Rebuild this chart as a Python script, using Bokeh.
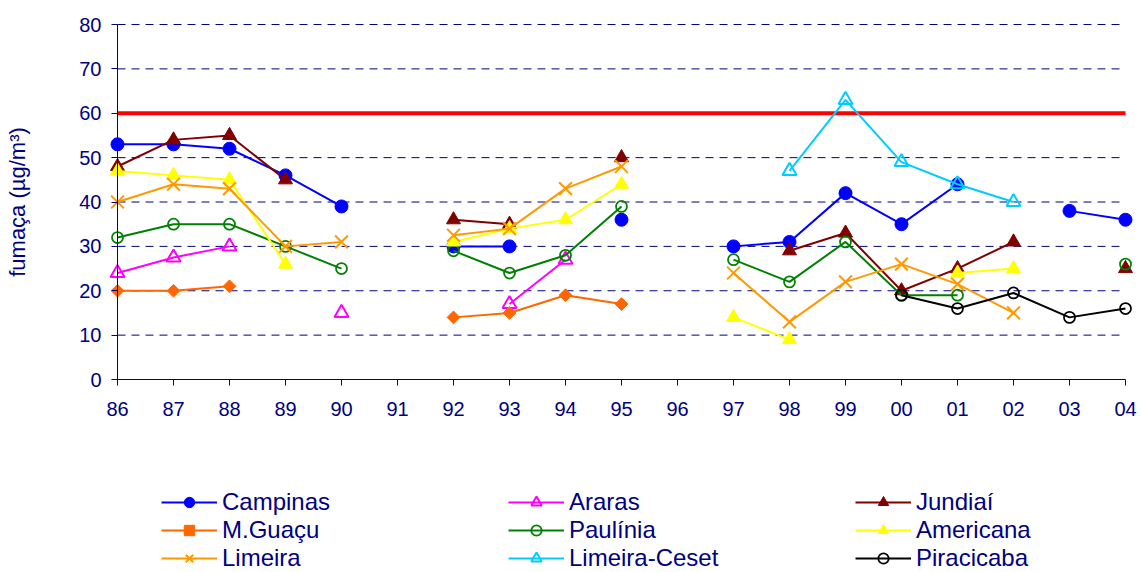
import math
import numpy as np
from bokeh.plotting import figure
from bokeh.models import Range1d, FixedTicker
from bokeh.embed import file_html
from bokeh.resources import INLINE

# ---------------- data ----------------
years = ["86", "87", "88", "89", "90", "91", "92", "93", "94", "95",
         "96", "97", "98", "99", "00", "01", "02", "03", "04"]
N = None
campinas      = [53, 53, 52, 46, 39, N, 30, 30, N, 36, N, 30, 31, 42, 35, 44, N, 38, 36]
araras        = [24, 27.5, 30, N, 15, N, N, 17, 27, N, N, N, N, N, N, N, N, N, N]
jundiai       = [48, 54, 55, 45, N, N, 36, 35, N, 50, N, N, 29, 33, 20, 25, 31, N, 25]
mguacu        = [20, 20, 21, N, N, N, 14, 15, 19, 17, N, N, N, N, N, N, N, N, N]
paulinia      = [32, 35, 35, 30, 25, N, 29, 24, 28, 39, N, 27, 22, 31, 19, 19, N, N, 26]
americana     = [47, 46, 45, 26, N, N, 31, 34, 36, 44, N, 14, 9, N, N, 24, 25, N, N]
limeira       = [40, 44, 43, 30, 31, N, 32.5, 34, 43, 48, N, 24, 13, 22, 26, 21.5, 15, N, N]
limeira_ceset = [N, N, N, N, N, N, N, N, N, N, N, N, 47, 63, 49, 44, 40, N, N]
piracicaba    = [N, N, N, N, N, N, N, N, N, N, N, N, N, N, 19, 16, 19.5, 14, 16]

series_names = ["Campinas", "Araras", "Jundiaí", "M.Guaçu", "Paulínia",
                "Americana", "Limeira", "Limeira-Ceset", "Piracicaba"]
series_values = [campinas, araras, jundiai, mguacu, paulinia,
                 americana, limeira, limeira_ceset, piracicaba]

limit_value = 60
y_ticks = [0, 10, 20, 30, 40, 50, 60, 70, 80]

# ---------------- styles ----------------
NAVY = "#000080"
FONT = "Liberation Sans"
styles = [
    dict(color="#0000FF", marker="circle",   size=13, filled=True,  lw=1,    angle=0),
    dict(color="#FF00FF", marker="triangle", size=14, filled=False, lw=2,    angle=0),
    dict(color="#800000", marker="triangle", size=14, filled=True,  lw=1,    angle=0),
    dict(color="#FF6600", marker="square",   size=9,  filled=True,  lw=1,    angle=math.pi / 4),
    dict(color="#008000", marker="circle",   size=11, filled=False, lw=1.75, angle=0),
    dict(color="#FFFF00", marker="triangle", size=14, filled=True,  lw=1,    angle=0),
    dict(color="#FF9900", marker="x",        size=18, filled=False, lw=2,    angle=0),
    dict(color="#00CCFF", marker="triangle", size=14, filled=False, lw=2,    angle=0),
    dict(color="#000000", marker="circle",   size=11, filled=False, lw=1.75, angle=0),
]

xs = list(range(len(years)))
last = len(years) - 1

W, H = 1143, 572
PX_X = 56.0          # pixels per category step
PX_Y = 355.0 / 80.0  # pixels per y unit
AX_LEFT, AX_BOTTOM, AX_TOP = 117, 379, 24


def arr(v):
    return np.array([np.nan if a is None else a for a in v], dtype=float)


x_range = Range1d(-AX_LEFT / PX_X, last + (W - AX_LEFT - last * PX_X) / PX_X)
y_range = Range1d(-(H - AX_BOTTOM) / PX_Y, 80 + AX_TOP / PX_Y)

p = figure(width=W, height=H, x_range=x_range, y_range=y_range,
           output_backend="svg", toolbar_location=None,
           min_border_left=0, min_border_right=0,
           min_border_top=0, min_border_bottom=0,
           outline_line_color=None,
           background_fill_color="white", border_fill_color="white")
p.grid.visible = False

# dashed horizontal grid lines (at the y tick values)
p.segment(x0=0, x1=last, y0=y_ticks[1:], y1=y_ticks[1:],
          line_color=NAVY, line_width=1, line_dash="8 6")

# limit line
p.segment(x0=0, x1=last, y0=[limit_value], y1=[limit_value],
          line_color="#FF0000", line_width=4)

for name, vals, st in zip(series_names, series_values, styles):
    y = arr(vals)
    p.line(xs, y, line_color=st["color"], line_width=2, legend_label=name)
    p.scatter(xs, y, marker=st["marker"], size=st["size"], angle=st["angle"],
              line_color=st["color"], line_width=st["lw"],
              fill_color=st["color"] if st["filled"] else None,
              legend_label=name)

# ---------------- axes ----------------
xa = p.xaxis[0]
xa.fixed_location = 0
xa.ticker = FixedTicker(ticks=xs)
xa.major_label_overrides = {i: lab for i, lab in enumerate(years)}
xa.bounds = (0, last)
xa.axis_line_color = NAVY
xa.major_tick_line_color = NAVY
xa.major_tick_out = 6
xa.major_tick_in = 0
xa.minor_tick_line_color = None
xa.major_label_text_color = NAVY
xa.major_label_text_font = FONT
xa.major_label_text_font_size = "20px"
xa.major_label_standoff = 16

ya = p.yaxis[0]
ya.fixed_location = 0
ya.ticker = FixedTicker(ticks=y_ticks)
ya.bounds = (0, 80)
ya.axis_line_color = NAVY
ya.major_tick_line_color = NAVY
ya.major_tick_out = 6
ya.major_tick_in = 0
ya.minor_tick_line_color = None
ya.major_label_text_color = NAVY
ya.major_label_text_font = FONT
ya.major_label_text_font_size = "20px"
ya.major_label_standoff = 10
ya.axis_label = "fumaça (µg/m³)"
ya.axis_label_text_font = FONT
ya.axis_label_text_font_size = "22px"
ya.axis_label_text_font_style = "normal"
ya.axis_label_text_color = NAVY
ya.axis_label_standoff = 46

# ---------------- legend ----------------
leg = p.legend[0]
leg.location = (161, 0)
leg.orientation = "horizontal"
leg.ncols = 3
leg.padding = 0
leg.margin = 0
leg.spacing = 0
leg.glyph_width = 56
leg.glyph_height = 26
leg.label_standoff = 5
leg.label_width = 286
leg.label_height = 26
leg.label_text_font = FONT
leg.label_text_font_size = "24px"
leg.label_text_color = NAVY
leg.border_line_color = None
leg.background_fill_alpha = 0

open("out.html", "w").write(file_html(p, INLINE))
